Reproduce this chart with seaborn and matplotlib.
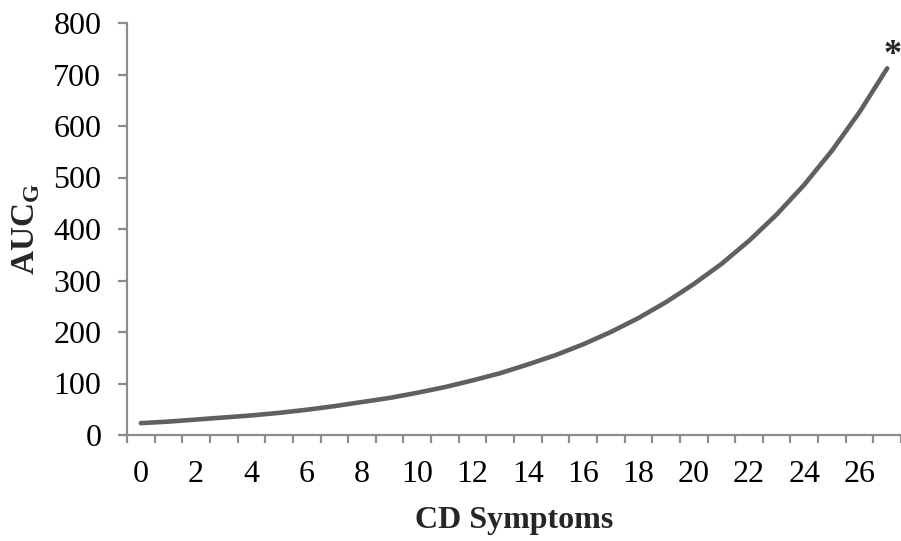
import numpy as np
import pandas as pd
import matplotlib
matplotlib.use('Agg')
import matplotlib.pyplot as plt
import seaborn as sns

# values (one per symptom count)
cd_symptoms = list(range(0, 28))
auc_g = [23, 26, 30, 34, 38, 43, 49, 56, 64, 72,
         82, 93, 106, 120, 137, 155, 176, 200, 227, 258,
         293, 332, 377, 428, 486, 552, 627, 712]
xtick_labels = [str(v) for v in range(0, 27, 2)]
ytick_values = list(range(0, 801, 100))

df = pd.DataFrame({'CD Symptoms': cd_symptoms, 'AUC_G': auc_g})

sns.set_theme(style='white')
plt.rcParams['font.family'] = ['Liberation Serif', 'DejaVu Serif']
plt.rcParams['mathtext.fontset'] = 'custom'
plt.rcParams['mathtext.rm'] = 'Liberation Serif'
plt.rcParams['mathtext.bf'] = 'Liberation Serif:bold'

fig = plt.figure(figsize=(9.01, 5.41), dpi=100)
ax = fig.add_axes([127 / 901, 1 - 435 / 541, 1 - 127 / 901, (435 - 23) / 541])

sns.lineplot(data=df, x='CD Symptoms', y='AUC_G', ax=ax,
             color='#606060', linewidth=3.3, solid_capstyle='round')

axis_grey = '#8c8c8c'
for side in ['top', 'right']:
    ax.spines[side].set_visible(False)
for side in ['left', 'bottom']:
    ax.spines[side].set_color(axis_grey)
    ax.spines[side].set_linewidth(1.6)

# category-style x axis: labels at centres, tick marks between categories
ax.set_xlim(-0.5, 27.5)
ax.set_xticks(range(0, 27, 2))
ax.set_xticklabels(xtick_labels)
ax.set_xticks(np.arange(-0.5, 28.0, 1.0), minor=True)
ax.tick_params(axis='x', which='major', length=0, pad=18, labelsize=23, colors='black')
ax.tick_params(axis='x', which='minor', length=5.5, width=1.6, color=axis_grey,
               direction='out', bottom=True)

ax.set_ylim(0, 800)
ax.set_yticks(ytick_values)
ax.tick_params(axis='y', which='major', length=6.5, width=1.6, color=axis_grey,
               direction='out', pad=12, labelsize=23, labelcolor='black', left=True)

ax.set_xlabel('CD Symptoms', fontsize=23, fontweight='bold', labelpad=12)
ax.set_ylabel(r'$\mathbf{AUC}_{\mathbf{G}}$', fontsize=24, labelpad=8)

ax.annotate('*', xy=(cd_symptoms[-1], auc_g[-1]), xytext=(4, 9),
            textcoords='offset points', fontsize=26, fontweight='bold',
            ha='center', va='center', annotation_clip=False)

fig.savefig('out.png', dpi=100)
